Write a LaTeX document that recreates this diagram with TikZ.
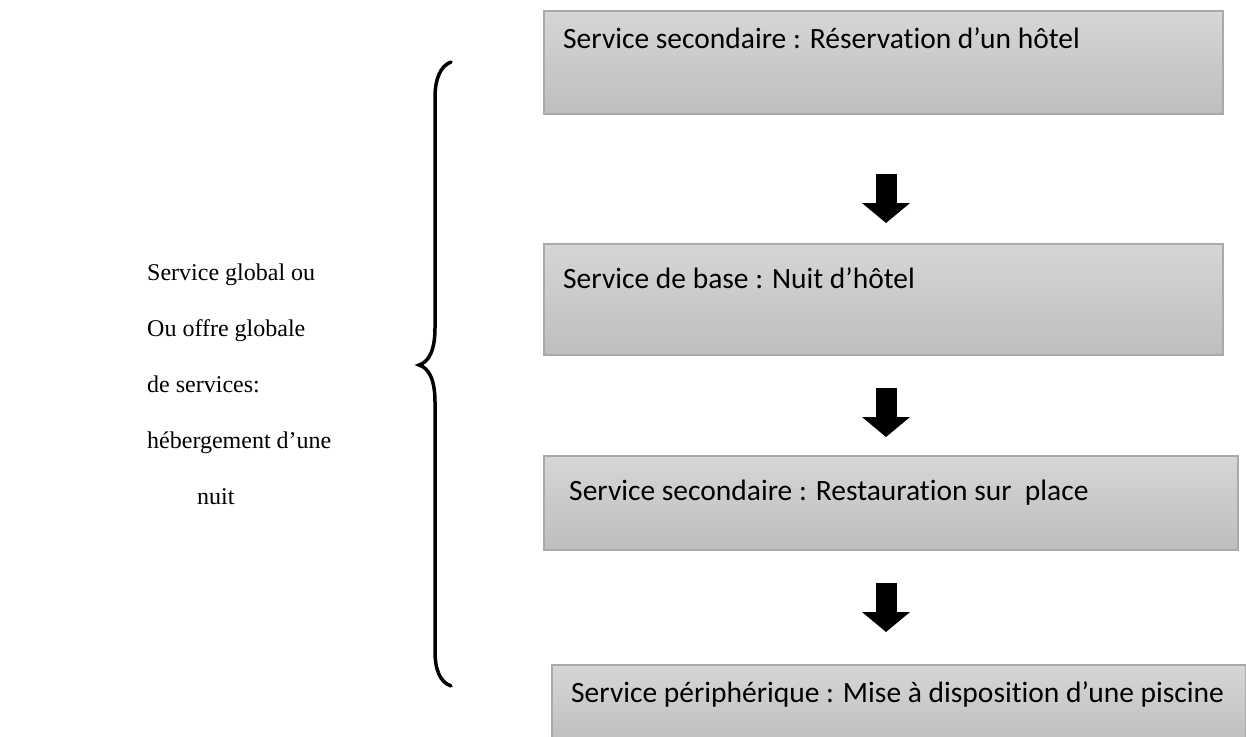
\documentclass[tikz,border=0pt]{standalone}
\usepackage{fontspec}
\setmainfont{Liberation Serif}
\newfontfamily\boxfont[Ligatures=NoCommon]{Carlito}
\usetikzlibrary{positioning, arrows.meta}

\definecolor{boxtop}{HTML}{D6D6D6}
\definecolor{boxbot}{HTML}{BEBEBE}
\definecolor{boxline}{HTML}{A9A9A9}

\tikzset{
	svcbox/.style={draw=boxline, line width=1.5pt, top color=boxtop, bottom color=boxbot,
		anchor=north west, inner sep=0pt},
	svctext/.style={anchor=base west, inner sep=0pt, font=\boxfont\fontsize{29.5}{34}\selectfont},
	lefttext/.style={anchor=base west, inner sep=0pt, font=\fontsize{24}{28}\selectfont},
	blockarrow/.style={line width=21pt, -{Triangle[width=47pt, length=20pt]}},
	bracket/.style={line width=3.5pt, line cap=round}
}

\begin{document}
\begin{tikzpicture}[x=1pt, y=-1pt]
	\useasboundingbox (0,0) rectangle (1246,736);
	\clip (0,0) rectangle (1246,736);
	
	% service boxes
	\node[svcbox, minimum width=679, minimum height=103] (b1) at (543,10) {};
	\node[svcbox, minimum width=679, minimum height=111] (b2) at (543,243) {};
	\node[svcbox, minimum width=694, minimum height=94] (b3) at (543,455) {};
	\node[svcbox, minimum width=694, minimum height=80] (b4) at (551,664) {};
	
	\node[svctext] (t1) at (563,48) {Service secondaire : Réservation d’un hôtel};
	\node[svctext] (t2) at (563,288) {Service de base : Nuit d’hôtel};
	\node[svctext] (t3) at (569,500) {Service secondaire : Restauration sur\ \ place};
	\node[svctext] (t4) at (571,702) {Service périphérique : Mise à disposition d’une piscine};
	
	% arrows in the gaps
	\def\ax{886}
	\coordinate (a1s) at (\ax,174);
	\coordinate (a1e) at (\ax,223);
	\coordinate (a2s) at (\ax,388);
	\coordinate (a2e) at (\ax,437);
	\coordinate (a3s) at (\ax,583);
	\coordinate (a3e) at (\ax,632);
	\draw[blockarrow] (a1s) -- (a1e);
	\draw[blockarrow] (a2s) -- (a2e);
	\draw[blockarrow] (a3s) -- (a3e);
	
	% left text
	\node[lefttext] (l1) at (147,280) {Service global ou};
	\node[lefttext] (l2) at (147,336) {Ou offre globale};
	\node[lefttext] (l3) at (147,392) {de services:};
	\node[lefttext] (l4) at (147,448) {hébergement d’une};
	\node[lefttext] (l5) at (197,504) {nuit};
	
	% brace
	\coordinate (bt) at (451,62);
	\coordinate (bm) at (419,365);
	\coordinate (bb) at (451,686);
	\draw[bracket] (bt) .. controls (440,66) and (435,80) .. (435,97)
		-- (435,328) .. controls (435,350) and (429,362) .. (bm)
		.. controls (429,368) and (435,380) .. (435,402)
		-- (435,651) .. controls (435,670) and (440,682) .. (bb);
\end{tikzpicture}
\end{document}
